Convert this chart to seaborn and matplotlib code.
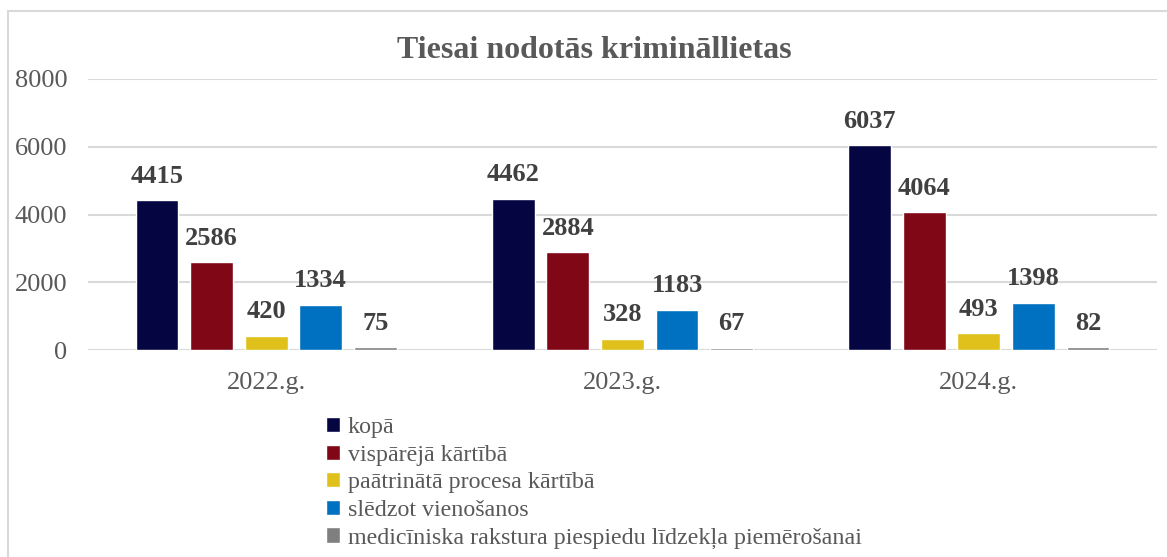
import numpy as np
import pandas as pd
import matplotlib.pyplot as plt
import seaborn as sns
from matplotlib.patches import Rectangle

years = ["2022.g.", "2023.g.", "2024.g."]
series = ["kopā", "vispārējā kārtībā", "paātrinātā procesa kārtībā",
          "slēdzot vienošanos", "medicīniska rakstura piespiedu līdzekļa piemērošanai"]
kopa = [4415, 4462, 6037]
visparejaa = [2586, 2884, 4064]
paatrinata = [420, 328, 493]
sledzot = [1334, 1183, 1398]
mediciniska = [75, 67, 82]
colors = ["#050542", "#7f0716", "#e0c11c", "#0070c0", "#7f7f7f"]

rows = []
for name, vals in zip(series, [kopa, visparejaa, paatrinata, sledzot, mediciniska]):
    for y, v in zip(years, vals):
        rows.append({"gads": y, "veids": name, "skaits": v})
df = pd.DataFrame(rows)

sns.set_theme(style="white")
plt.rcParams['font.family'] = ['Liberation Serif', 'DejaVu Serif']

fig = plt.figure(figsize=(11.67, 5.57), dpi=100)
ax = fig.add_axes([0.0754, 0.3716, 0.916, 0.4866])

sns.barplot(data=df, x="gads", y="skaits", hue="veids", hue_order=series,
            palette=colors, width=0.766, gap=0.215, saturation=1, ax=ax)

ax.set_ylim(0, 8000)
ax.set_yticks([0, 2000, 4000, 6000, 8000])
ax.yaxis.grid(True, color="#d9d9d9", linewidth=1.5)
ax.set_axisbelow(True)
for s in ax.spines.values():
    s.set_visible(False)
ax.set_xlabel("")
ax.set_ylabel("")
ax.tick_params(axis="y", labelsize=19, colors="#595959", length=0, pad=15)
ax.tick_params(axis="x", labelsize=19, colors="#595959", length=0, pad=16)

for cont in ax.containers:
    ax.bar_label(cont, fontsize=19, fontweight="bold", color="#404040", padding=9)

handles, labels = ax.get_legend_handles_labels()
ax.legend_.remove()
fig.legend(handles, labels, loc="upper left", bbox_to_anchor=(326 / 1167, 1 - 417 / 557),
           frameon=False, fontsize=17.3, labelcolor="#595959",
           handlelength=0.6, handleheight=0.6, handletextpad=0.3, labelspacing=0.27,
           borderpad=0, borderaxespad=0)

fig.text(594 / 1167, 1 - 51 / 557, "Tiesai nodotās krimināllietas",
         ha="center", va="center", fontsize=23, fontweight="bold", color="#595959")

fig.patches.append(Rectangle((8 / 1167, -0.1), 1.2, 1 - 11 / 557 + 0.1,
                             transform=fig.transFigure, fill=False,
                             edgecolor="#d9d9d9", linewidth=1.5))

fig.savefig("out.png", dpi=100)
